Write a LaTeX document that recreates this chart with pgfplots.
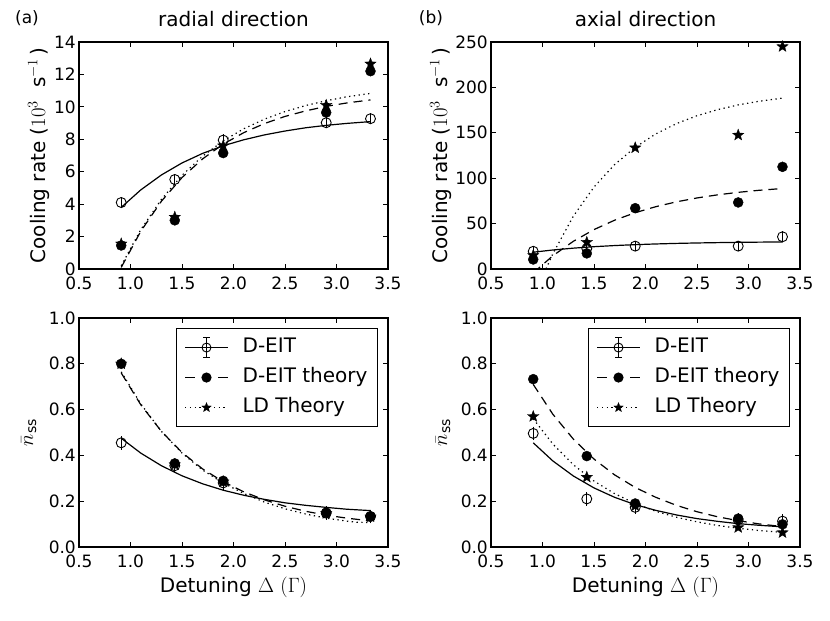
\documentclass[border=0pt]{standalone}
\usepackage{fontspec}
\setmainfont{DejaVu Sans}
\usepackage{pgfplots}
\pgfplotsset{compat=1.18}

\pgfdeclareplotmark{fstar}{%
 \pgfpathmoveto{\pgfpointpolar{90}{\pgfplotmarksize}}%
 \pgfpathlineto{\pgfpointpolar{126}{0.42\pgfplotmarksize}}%
 \pgfpathlineto{\pgfpointpolar{162}{\pgfplotmarksize}}%
 \pgfpathlineto{\pgfpointpolar{198}{0.42\pgfplotmarksize}}%
 \pgfpathlineto{\pgfpointpolar{234}{\pgfplotmarksize}}%
 \pgfpathlineto{\pgfpointpolar{270}{0.42\pgfplotmarksize}}%
 \pgfpathlineto{\pgfpointpolar{306}{\pgfplotmarksize}}%
 \pgfpathlineto{\pgfpointpolar{342}{0.42\pgfplotmarksize}}%
 \pgfpathlineto{\pgfpointpolar{18}{\pgfplotmarksize}}%
 \pgfpathlineto{\pgfpointpolar{54}{0.42\pgfplotmarksize}}%
 \pgfpathclose
 \pgfusepathqfillstroke
}

\pgfplotsset{
 myaxis/.style={
  scale only axis, width=309pt,
  xmin=0.5, xmax=3.5, xtick={0.5,1,1.5,2,2.5,3,3.5},
  xtick pos=both, ytick pos=both,
  tick align=inside, major tick length=5pt,
  major tick style={black, line width=0.8pt},
  axis line style={line width=1.1pt},
  tick label style={font=\fontsize{17}{20}\selectfont},
  /pgf/number format/assume math mode=true,
  xticklabel style={inner sep=0pt, yshift=-8pt, /pgf/number format/.cd, fixed, fixed zerofill, precision=1},
  yticklabel style={inner sep=0pt, xshift=-3pt},
  label style={font=\fontsize{20}{24}\selectfont},
  title style={font=\fontsize{20}{24}\selectfont, at={(0.5,1)}, anchor=south, inner sep=0pt, yshift=9pt},
  clip mode=individual,
 },
 fitsolid/.style={black, line width=1.2pt, no marks},
 fitdash/.style={black, line width=1.2pt, no marks, dash pattern=on 9pt off 6pt},
 fitdot/.style={black, line width=1.2pt, no marks, dash pattern=on 1.3pt off 3.5pt},
 opencirc/.style={black, only marks, mark=o, mark size=5pt, mark options={line width=0.9pt, black},
   error bars/y dir=both, error bars/y explicit,
   error bars/error bar style={line width=0.9pt, black},
   error bars/error mark options={mark size=4pt, line width=0.9pt, black}},
 filledcirc/.style={black, only marks, mark=*, mark size=5pt, mark options={black}},
 stars/.style={black, only marks, mark=fstar, mark size=6pt, mark options={black, line width=0.3pt}},
 xlab/.style={xlabel style={at={(axis description cs:0.5,0)}, anchor=base, yshift=-45pt, inner sep=0pt}},
 mylegend/.style={
  legend cell align=left,
  legend style={at={([xshift=-10pt,yshift=-10pt]rel axis cs:1,1)}, anchor=north east,
   draw=black, line width=1.1pt, font=\fontsize{20}{24}\selectfont,
   inner xsep=8pt, inner ysep=7pt, row sep=6pt,
   nodes={inner sep=2pt, text height=15pt, text depth=5pt},
   /tikz/every odd column/.append style={column sep=12pt}},
 },
}

\begin{document}
\begin{tikzpicture}
\useasboundingbox (0,0) rectangle (830pt,-621pt);

\node[font=\fontsize{17}{20}\selectfont] at (27pt,-18pt) {(a)};
\node[font=\fontsize{17}{20}\selectfont] at (431pt,-18pt) {(b)};

% ---------------- (a) top: radial cooling rate
\begin{axis}[myaxis, at={(79pt,-269pt)}, anchor=south west, height=227pt,
  ymin=0, ymax=14, ytick={0,2,4,6,8,10,12,14},
  title={radial direction},
  ylabel={Cooling rate ($10^{3}$\ \ s$^{-1}$\,)},
  ylabel style={at={([xshift=-34pt]rel axis cs:0,0.5)}, anchor=base}]
\addplot[fitsolid] coordinates {(0.91,3.80)(1.1,4.88)(1.3,5.80)(1.5,6.54)(1.7,7.13)(1.9,7.60)(2.1,7.97)(2.3,8.27)(2.5,8.51)(2.7,8.71)(2.9,8.86)(3.1,8.98)(3.33,9.09)};
\addplot[fitdash] coordinates {(0.91,0.10)(1.1,2.33)(1.3,4.18)(1.5,5.64)(1.7,6.79)(1.9,7.70)(2.1,8.41)(2.3,8.97)(2.5,9.41)(2.7,9.75)(2.9,10.03)(3.1,10.24)(3.33,10.43)};
\addplot[fitdot] coordinates {(0.91,0.20)(1.1,2.43)(1.3,4.29)(1.5,5.78)(1.7,6.96)(1.9,7.90)(2.1,8.65)(2.3,9.24)(2.5,9.71)(2.7,10.08)(2.9,10.38)(3.1,10.62)(3.33,10.83)};
\addplot[opencirc] coordinates {(0.91,4.10)+-(0,0.1) (1.43,5.52)+-(0,0.1) (1.90,7.95)+-(0,0.1) (2.90,9.02)+-(0,0.1) (3.33,9.27)+-(0,0.1)};
\addplot[stars] coordinates {(0.91,1.55)(1.43,3.2)(1.90,7.6)(2.90,10.1)(3.33,12.65)};
\addplot[filledcirc] coordinates {(0.91,1.45)(1.43,3.00)(1.90,7.15)(2.90,9.65)(3.33,12.20)};
\end{axis}

% ---------------- (b) top: axial cooling rate
\begin{axis}[myaxis, at={(491pt,-269pt)}, anchor=south west, height=227pt,
  ymin=0, ymax=250, ytick={0,50,100,150,200,250},
  title={axial direction},
  ylabel={Cooling rate ($10^{3}$\ \ s$^{-1}$\,)},
  ylabel style={at={([xshift=-44pt]rel axis cs:0,0.5)}, anchor=base}]
\addplot[fitsolid] coordinates {(0.91,18.5)(1.1,20.94)(1.3,22.97)(1.5,24.57)(1.7,25.82)(1.9,26.81)(2.1,27.58)(2.3,28.20)(2.5,28.68)(2.7,29.05)(2.9,29.35)(3.1,29.59)(3.33,29.80)};
\addplot[fitdash] coordinates {(0.91,-4.3)(1.1,14.55)(1.3,30.56)(1.5,43.42)(1.7,53.73)(1.9,62.00)(2.1,68.63)(2.3,73.96)(2.5,78.25)(2.7,81.68)(2.9,84.43)(3.1,86.66)(3.33,88.65)};
\addplot[fitdot] coordinates {(0.91,-34)(1.0,-8.5)(1.1,16.7)(1.3,58.3)(1.5,90.3)(1.7,115.0)(1.9,134.0)(2.1,148.8)(2.3,160.1)(2.5,168.8)(2.7,175.5)(2.9,180.7)(3.1,184.7)(3.33,188.2)};
\addplot[opencirc] coordinates {(0.91,19.5)+-(0,1.5) (1.43,22.5)+-(0,1.5) (1.90,25.2)+-(0,1.5) (2.90,25.2)+-(0,1.5) (3.33,35.5)+-(0,1.5)};
\addplot[stars] coordinates {(0.91,15)(1.43,29.5)(1.90,133.5)(2.90,147.5)(3.33,245)};
\addplot[filledcirc] coordinates {(0.91,10.5)(1.43,17.2)(1.90,67)(2.90,73.3)(3.33,112.5)};
\end{axis}

% ---------------- (a) bottom: radial n_ss
\begin{axis}[myaxis, xlab, mylegend, at={(79pt,-547pt)}, anchor=south west, height=229pt,
  ymin=0, ymax=1, ytick={0,0.2,0.4,0.6,0.8,1.0},
  yticklabel style={/pgf/number format/.cd, fixed, fixed zerofill, precision=1},
  xlabel={Detuning $\Delta$ $(\Gamma)$},
  ylabel={$\bar{n}_{\mathrm{ss}}$},
  ylabel style={at={([xshift=-46pt]rel axis cs:0,0.5)}, anchor=base}]
\addplot[fitsolid, forget plot] coordinates {(0.91,0.475)(1.1,0.410)(1.3,0.355)(1.5,0.311)(1.7,0.276)(1.9,0.248)(2.1,0.226)(2.3,0.208)(2.5,0.193)(2.7,0.182)(2.9,0.173)(3.1,0.165)(3.33,0.159)};
\addplot[fitdash, forget plot] coordinates {(0.91,0.760)(1.1,0.621)(1.3,0.505)(1.5,0.413)(1.7,0.341)(1.9,0.285)(2.1,0.241)(2.3,0.206)(2.5,0.178)(2.7,0.156)(2.9,0.139)(3.1,0.126)(3.33,0.114)};
\addplot[fitdot, forget plot] coordinates {(0.91,0.765)(1.1,0.625)(1.3,0.505)(1.5,0.410)(1.7,0.336)(1.9,0.279)(2.1,0.234)(2.3,0.196)(2.5,0.167)(2.7,0.144)(2.9,0.126)(3.1,0.113)(3.2,0.108)(3.33,0.107)};
\addplot[opencirc, forget plot] coordinates {(0.91,0.455)+-(0,0.012) (1.43,0.355)+-(0,0.012) (1.90,0.280)+-(0,0.012) (2.90,0.148)+-(0,0.012) (3.33,0.133)+-(0,0.012)};
\addplot[stars, forget plot] coordinates {(0.91,0.80)(1.43,0.36)(1.90,0.285)(2.90,0.147)(3.33,0.132)};
\addplot[filledcirc, forget plot] coordinates {(0.91,0.80)(1.43,0.365)(1.90,0.289)(2.90,0.150)(3.33,0.134)};
\addlegendimage{legend image code/.code={
  \draw[line width=1.2pt] (0pt,0pt) -- (43pt,0pt);
  \draw[line width=0.9pt] (21.5pt,-10pt) -- (21.5pt,10pt);
  \draw[line width=0.9pt] (18pt,-10pt) -- (25pt,-10pt) (18pt,10pt) -- (25pt,10pt);
  \draw[line width=0.9pt] (21.5pt,0pt) circle (4.5pt);}}
\addlegendentry{D-EIT}
\addlegendimage{legend image code/.code={
  \draw[line width=1.2pt] (0pt,0pt) -- (10pt,0pt) (33pt,0pt) -- (43pt,0pt);
  \fill (21.5pt,0pt) circle (4.5pt);}}
\addlegendentry{D-EIT theory}
\addlegendimage{legend image code/.code={
  \draw[line width=1.2pt, dash pattern=on 1.3pt off 3.5pt] (0pt,0pt) -- (43pt,0pt);
  \draw[mark=fstar, mark size=5pt, mark options={black, solid, line width=0.3pt}] plot coordinates {(21.5pt,0pt)};}}
\addlegendentry{LD Theory}
\end{axis}

% ---------------- (b) bottom: axial n_ss
\begin{axis}[myaxis, xlab, mylegend, at={(491pt,-547pt)}, anchor=south west, height=229pt,
  ymin=0, ymax=1, ytick={0,0.2,0.4,0.6,0.8,1.0},
  yticklabel style={/pgf/number format/.cd, fixed, fixed zerofill, precision=1},
  xlabel={Detuning $\Delta$ $(\Gamma)$},
  ylabel={$\bar{n}_{\mathrm{ss}}$},
  ylabel style={at={([xshift=-44pt]rel axis cs:0,0.5)}, anchor=base}]
\addplot[fitsolid, forget plot] coordinates {(0.91,0.455)(1.1,0.376)(1.3,0.310)(1.5,0.258)(1.7,0.217)(1.9,0.185)(2.1,0.160)(2.3,0.140)(2.5,0.124)(2.7,0.112)(2.9,0.102)(3.1,0.095)(3.33,0.088)};
\addplot[fitdash, forget plot] coordinates {(0.91,0.710)(1.1,0.580)(1.3,0.471)(1.5,0.384)(1.7,0.315)(1.9,0.260)(2.1,0.217)(2.3,0.182)(2.5,0.154)(2.7,0.132)(2.9,0.115)(3.1,0.101)(3.33,0.089)};
\addplot[fitdot, forget plot] coordinates {(0.91,0.560)(1.1,0.450)(1.3,0.359)(1.5,0.288)(1.7,0.233)(1.9,0.190)(2.1,0.156)(2.3,0.130)(2.5,0.110)(2.7,0.094)(2.9,0.082)(3.1,0.072)(3.33,0.064)};
\addplot[opencirc, forget plot] coordinates {(0.91,0.496)+-(0,0.012) (1.43,0.210)+-(0,0.012) (1.90,0.173)+-(0,0.012) (2.90,0.118)+-(0,0.012) (3.33,0.113)+-(0,0.012)};
\addplot[stars, forget plot] coordinates {(0.91,0.570)(1.43,0.305)(1.90,0.180)(2.90,0.085)(3.33,0.063)};
\addplot[filledcirc, forget plot] coordinates {(0.91,0.733)(1.43,0.397)(1.90,0.190)(2.90,0.124)(3.33,0.099)};
\addlegendimage{legend image code/.code={
  \draw[line width=1.2pt] (0pt,0pt) -- (43pt,0pt);
  \draw[line width=0.9pt] (21.5pt,-10pt) -- (21.5pt,10pt);
  \draw[line width=0.9pt] (18pt,-10pt) -- (25pt,-10pt) (18pt,10pt) -- (25pt,10pt);
  \draw[line width=0.9pt] (21.5pt,0pt) circle (4.5pt);}}
\addlegendentry{D-EIT}
\addlegendimage{legend image code/.code={
  \draw[line width=1.2pt] (0pt,0pt) -- (10pt,0pt) (33pt,0pt) -- (43pt,0pt);
  \fill (21.5pt,0pt) circle (4.5pt);}}
\addlegendentry{D-EIT theory}
\addlegendimage{legend image code/.code={
  \draw[line width=1.2pt, dash pattern=on 1.3pt off 3.5pt] (0pt,0pt) -- (43pt,0pt);
  \draw[mark=fstar, mark size=5pt, mark options={black, solid, line width=0.3pt}] plot coordinates {(21.5pt,0pt)};}}
\addlegendentry{LD Theory}
\end{axis}
\end{tikzpicture}
\end{document}
